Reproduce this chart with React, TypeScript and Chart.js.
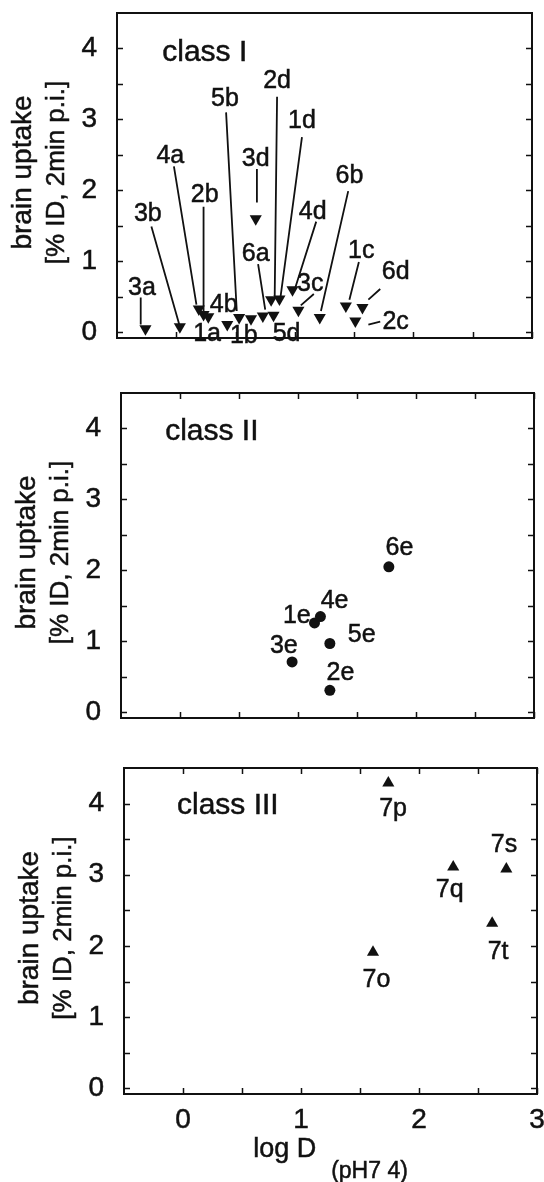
import React, { useEffect, useRef } from "react";
import { Chart, registerables } from "chart.js";
Chart.register(...registerables);

// ---------- shared axes ----------
const xTickValues = [0, 1, 2, 3];
const yTickValues = [0, 1, 2, 3, 4];
const xRange = [-0.5, 3];
const yRange = [-0.08, 4.5];
const yTitleLines = ["brain uptake", "[% ID, 2min p.i.]"];
const xTitleMain = "log D";
const xTitleSub = "(pH7 4)";

// ---------- class I ----------
const class1Name = "class I";
const class1Labels = ["3a", "3b", "4a", "2b", "1a", "4b", "5b", "1b", "6a", "5d", "2d", "1d", "3d", "4d", "3c", "6b", "1c", "2c", "6d"];
const class1LogD = [-0.26, 0.03, 0.19, 0.23, 0.27, 0.43, 0.53, 0.63, 0.73, 0.82, 0.8, 0.87, 0.67, 0.98, 1.03, 1.21, 1.43, 1.51, 1.57];
const class1Uptake = [0.05, 0.08, 0.33, 0.25, 0.22, 0.11, 0.21, 0.19, 0.23, 0.24, 0.46, 0.47, 1.6, 0.6, 0.31, 0.21, 0.37, 0.16, 0.35];
const class1LabelX = [-0.29, -0.24, -0.05, 0.24, 0.26, 0.4, 0.41, 0.57, 0.67, 0.93, 0.85, 1.06, 0.67, 1.15, 1.13, 1.46, 1.56, 1.85, 1.85];
const class1LabelY = [0.63, 1.66, 2.48, 1.94, -0.03, 0.39, 3.28, -0.05, 1.1, -0.03, 3.54, 2.97, 2.44, 1.7, 0.68, 2.2, 1.14, 0.14, 0.85];
// leader lines (label end -> marker end), null = no line
const class1Leaders: (number[] | null)[] = [
  [-0.3, 0.49, -0.3, 0.11],
  [-0.21, 1.49, 0.025, 0.11],
  [-0.02, 2.34, 0.17, 0.39],
  [0.23, 1.77, 0.23, 0.3],
  null,
  null,
  [0.42, 3.1, 0.51, 0.3],
  null,
  [0.69, 0.96, 0.75, 0.32],
  null,
  [0.85, 3.32, 0.83, 0.51],
  [1.06, 2.75, 0.88, 0.51],
  [0.68, 2.3, 0.68, 1.83],
  [1.18, 1.56, 1.0, 0.61],
  [1.16, 0.54, 1.05, 0.38],
  [1.45, 1.99, 1.22, 0.3],
  [1.54, 0.99, 1.46, 0.46],
  [1.72, 0.15, 1.62, 0.11],
  [1.72, 0.61, 1.62, 0.46],
];
const class1NamePos = [0.24, 3.94];

// ---------- class II ----------
const class2Name = "class II";
const class2Labels = ["1e", "2e", "3e", "4e", "5e", "6e"];
const class2LogD = [1.14, 1.27, 0.95, 1.19, 1.27, 1.77];
const class2Uptake = [1.26, 0.31, 0.71, 1.35, 0.97, 2.05];
const class2LabelX = [0.99, 1.36, 0.88, 1.31, 1.54, 1.86];
const class2LabelY = [1.36, 0.55, 0.93, 1.57, 1.09, 2.32];
const class2NamePos = [0.27, 3.96];

// ---------- class III ----------
const class3Name = "class III";
const class3Labels = ["7o", "7p", "7q", "7s", "7t"];
const class3LogD = [1.61, 1.74, 2.29, 2.74, 2.62];
const class3Uptake = [1.91, 4.29, 3.11, 3.08, 2.32];
const class3LabelX = [1.64, 1.78, 2.26, 2.72, 2.67];
const class3LabelY = [1.52, 3.92, 2.78, 3.41, 1.92];
const class3NamePos = [0.38, 3.97];

const FONT = '"Liberation Sans", Arial, Helvetica, sans-serif';
const INK = "#111";

type PanelCfg = {
  height: number;
  top: number;
  left: number;
  right: number;
  bottom: number;
  topTicks: boolean;
  showX: boolean;
  name: string;
  namePos: number[];
  labels: string[];
  xs: number[];
  ys: number[];
  lx: number[];
  ly: number[];
  leaders?: (number[] | null)[];
  pointStyle: string;
  rotation: number;
  radius: number;
};

function boldText(ctx: CanvasRenderingContext2D, t: string, x: number, y: number) {
  ctx.fillText(t, x, y);
  ctx.strokeText(t, x, y);
}

const overlayPlugin = {
  id: "overlay",
  afterDraw(chart: any, _args: any, o: any) {
    const cfg: PanelCfg = o.cfg;
    const { ctx, chartArea: a } = chart;
    const x = chart.scales.x;
    const y = chart.scales.y;
    ctx.save();
    ctx.strokeStyle = INK;
    ctx.fillStyle = INK;
    // frame
    ctx.lineWidth = 2;
    ctx.strokeRect(a.left, a.top, a.right - a.left, a.bottom - a.top);
    // inward ticks
    ctx.lineWidth = 1.5;
    const tl = 6;
    const yMarks: number[] = [];
    yTickValues.forEach((v, i) => {
      yMarks.push(v);
      if (i < yTickValues.length - 1) yMarks.push((v + yTickValues[i + 1]) / 2);
    });
    ctx.beginPath();
    yMarks.forEach((v) => {
      const py = Math.round(y.getPixelForValue(v)) + 0.5;
      ctx.moveTo(a.left, py);
      ctx.lineTo(a.left + tl, py);
      ctx.moveTo(a.right, py);
      ctx.lineTo(a.right - tl, py);
    });
    const xMarks: number[] = [];
    xTickValues.forEach((v, i) => {
      xMarks.push(v);
      if (i < xTickValues.length - 1) xMarks.push((v + xTickValues[i + 1]) / 2);
    });
    xMarks.forEach((v) => {
      const px = Math.round(x.getPixelForValue(v)) + 0.5;
      ctx.moveTo(px, a.bottom);
      ctx.lineTo(px, a.bottom - tl);
      if (cfg.topTicks) {
        ctx.moveTo(px, a.top);
        ctx.lineTo(px, a.top + tl);
      }
    });
    ctx.stroke();

    ctx.lineWidth = 0.5;
    // y title (two lines, rotated)
    const cy = (a.top + a.bottom) / 2 - 3;
    ctx.textAlign = "center";
    ctx.textBaseline = "middle";
    const titleSizes = [28, 26];
    [a.left - 94, a.left - 60].forEach((px, i) => {
      ctx.save();
      ctx.font = `${titleSizes[i]}px ${FONT}`;
      ctx.translate(px, cy);
      ctx.rotate(-Math.PI / 2);
      boldText(ctx, yTitleLines[i], 0, 0);
      ctx.restore();
    });

    // class name
    ctx.font = `30px ${FONT}`;
    boldText(ctx, cfg.name, x.getPixelForValue(cfg.namePos[0]), y.getPixelForValue(cfg.namePos[1]));

    // leader lines
    if (cfg.leaders) {
      ctx.lineWidth = 1.8;
      ctx.beginPath();
      cfg.leaders.forEach((l) => {
        if (!l) return;
        ctx.moveTo(x.getPixelForValue(l[0]), y.getPixelForValue(l[1]));
        ctx.lineTo(x.getPixelForValue(l[2]), y.getPixelForValue(l[3]));
      });
      ctx.stroke();
      ctx.lineWidth = 0.5;
    }

    // data labels
    ctx.font = `25px ${FONT}`;
    cfg.labels.forEach((t, i) => {
      boldText(ctx, t, x.getPixelForValue(cfg.lx[i]), y.getPixelForValue(cfg.ly[i]));
    });

    // x title
    if (cfg.showX) {
      const mainFont = `27px ${FONT}`;
      const subFont = `23px ${FONT}`;
      ctx.font = mainFont;
      const w1 = ctx.measureText(xTitleMain).width;
      ctx.font = subFont;
      const w2 = ctx.measureText(xTitleSub).width;
      const gap = 15;
      const total = w1 + gap + w2;
      const start = (a.left + a.right) / 2 - total / 2;
      ctx.textAlign = "left";
      ctx.font = mainFont;
      boldText(ctx, xTitleMain, start, a.bottom + 56);
      ctx.font = subFont;
      boldText(ctx, xTitleSub, start + w1 + gap, a.bottom + 78);
    }
    ctx.restore();
  },
};

function Panel({ cfg }: { cfg: PanelCfg }) {
  const ref = useRef<HTMLCanvasElement | null>(null);
  useEffect(() => {
    const canvas = ref.current;
    if (!canvas) return;
    const chart = new Chart(canvas, {
      type: "scatter",
      data: {
        datasets: [
          {
            data: cfg.xs.map((v, i) => ({ x: v, y: cfg.ys[i] })),
            pointStyle: cfg.pointStyle as any,
            pointRotation: cfg.rotation,
            pointRadius: cfg.radius,
            pointBackgroundColor: INK,
            pointBorderColor: INK,
            pointBorderWidth: 0,
            showLine: false,
          } as any,
        ],
      },
      options: {
        responsive: false,
        animation: false,
        devicePixelRatio: 1,
        layout: { padding: { top: cfg.top, right: 544 - cfg.right, left: 0, bottom: 0 } },
        plugins: {
          legend: { display: false },
          tooltip: { enabled: false },
          overlay: { cfg },
        } as any,
        scales: {
          x: {
            type: "linear",
            min: xRange[0],
            max: xRange[1],
            grid: { display: false, drawTicks: false },
            border: { display: false },
            ticks: {
              display: cfg.showX,
              color: INK,
              font: { family: FONT, size: 28 },
              padding: 9,
              textStrokeColor: INK,
              textStrokeWidth: 0.5,
            } as any,
            afterBuildTicks: (s: any) => {
              s.ticks = xTickValues.map((v) => ({ value: v }));
            },
            afterFit: (s: any) => {
              s.height = cfg.height - cfg.bottom;
              s.paddingLeft = 0;
              s.paddingRight = 0;
            },
          },
          y: {
            type: "linear",
            min: yRange[0],
            max: yRange[1],
            grid: { display: false, drawTicks: false },
            border: { display: false },
            ticks: {
              color: INK,
              font: { family: FONT, size: 28 },
              padding: 20,
              textStrokeColor: INK,
              textStrokeWidth: 0.5,
            } as any,
            afterBuildTicks: (s: any) => {
              s.ticks = yTickValues.map((v) => ({ value: v }));
            },
            afterFit: (s: any) => {
              s.width = cfg.left;
              s.paddingTop = 0;
              s.paddingBottom = 0;
            },
          },
        },
      },
      plugins: [overlayPlugin],
    });
    return () => chart.destroy();
  }, [cfg]);
  return (
    <canvas
      ref={ref}
      width={544}
      height={cfg.height}
      style={{ display: "block", width: 544, height: cfg.height }}
    />
  );
}

const panels: PanelCfg[] = [
  {
    height: 370, top: 13, bottom: 338, left: 117, right: 532, topTicks: false, showX: false,
    name: class1Name, namePos: class1NamePos, labels: class1Labels, xs: class1LogD, ys: class1Uptake,
    lx: class1LabelX, ly: class1LabelY, leaders: class1Leaders, pointStyle: "triangle", rotation: 180, radius: 7,
  },
  {
    height: 370, top: 23, bottom: 348, left: 121, right: 534, topTicks: true, showX: false,
    name: class2Name, namePos: class2NamePos, labels: class2Labels, xs: class2LogD, ys: class2Uptake,
    lx: class2LabelX, ly: class2LabelY, pointStyle: "circle", rotation: 0, radius: 5.5,
  },
  {
    height: 442, top: 28, bottom: 354, left: 124, right: 537, topTicks: true, showX: true,
    name: class3Name, namePos: class3NamePos, labels: class3Labels, xs: class3LogD, ys: class3Uptake,
    lx: class3LabelX, ly: class3LabelY, pointStyle: "triangle", rotation: 0, radius: 7,
  },
];

export default function App() {
  return (
    <div style={{ position: "absolute", left: 0, top: 0, width: 544, height: 1182, background: "#fff" }}>
      {panels.map((p, i) => (
        <Panel key={i} cfg={p} />
      ))}
    </div>
  );
}
